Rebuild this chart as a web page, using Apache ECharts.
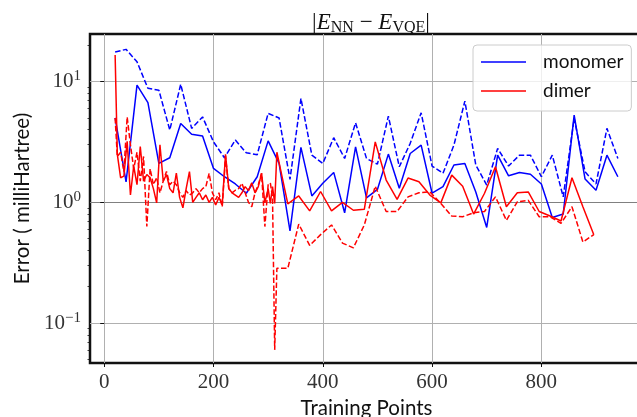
<!DOCTYPE html>
<html><head><meta charset="utf-8">
<script src="https://cdn.jsdelivr.net/npm/echarts@6/dist/echarts.min.js"></script>
<style>html,body{margin:0;padding:0;background:#fff}#c{width:637px;height:417px}</style>
</head><body><div id="c"></div>
<script>
const monomerX = [20,40,60,80,100,120,140,160,180,200,220,240,260,280,300,320,340,360,380,400,420,440,460,480,500,520,540,560,580,600,620,640,660,680,700,720,740,760,780,800,820,840,860,880,900,920,940];
const monomerSolid = [5.0,1.48,9.35,6.7,2.1,2.34,4.5,3.67,3.54,1.91,1.63,1.42,1.19,1.63,3.23,2.1,0.58,2.85,1.13,1.44,1.77,0.82,2.88,1.09,1.28,2.51,1.31,2.54,2.98,1.19,1.35,2.04,2.1,1.22,0.62,2.46,1.66,1.77,1.71,1.42,0.75,0.80,5.28,1.56,1.26,2.46,1.63];
const monomerDashed = [17.6,18.5,14.6,8.8,8.5,3.97,9.5,4.1,5.1,3.17,2.34,3.28,2.57,2.48,5.46,5.0,1.55,7.26,2.46,2.1,3.43,2.31,4.56,2.31,2.07,5.18,1.97,3.08,5.52,2.0,1.74,2.98,6.9,2.04,1.39,2.8,2.0,2.46,2.46,1.63,2.46,1.11,4.96,1.79,1.42,4.1,2.31];

const dimerX = [20,24,30,36,42,48,54,60,66,72,78,84,90,96,102,108,114,120,126,132,138,144,150,156,162,168,174,180,186,192,198,204,210,216,222,228,234,240,246,252,258,264,270,276,282,288,294,300,304,308,312,316,
  336,356,376,396,416,436,456,476,496,516,536,556,576,596,616,636,656,676,696,716,736,756,776,796,816,836,856,876,896];
const dimerSolid = [16.6,2.5,1.6,1.65,3.2,1.15,2.0,1.4,2.9,1.5,1.7,1.6,1.3,0.99,3.0,1.5,1.7,1.3,1.2,1.75,1.1,0.9,1.3,1.8,1.0,1.1,1.2,1.05,1.15,1.0,1.1,0.95,1.1,0.95,2.5,1.3,1.2,1.15,1.1,1.2,1.35,1.25,1.45,1.2,1.35,1.74,0.99,1.3,0.98,1.35,0.98,2.6,
  0.97,1.13,0.85,1.23,0.85,1.0,0.86,0.875,3.17,1.53,1.06,1.59,1.48,1.15,0.99,1.68,1.36,0.80,1.19,1.97,0.92,1.2,1.22,0.84,0.77,0.70,1.6,0.92,0.54];
const dimerDashed = [5.0,2.4,2.6,1.8,5.1,3.0,1.9,2.6,1.5,2.4,0.63,1.9,1.4,1.6,1.2,1.5,1.8,1.4,1.5,1.4,1.2,1.1,1.25,1.15,1.2,1.3,1.2,1.3,1.35,1.74,1.2,1.05,1.2,0.92,2.4,1.3,1.2,1.26,1.3,1.44,1.2,1.0,0.92,1.2,1.4,1.74,0.63,1.4,1.45,1.1,0.06,0.284,
  0.284,0.66,0.44,0.54,0.65,0.46,0.42,0.65,1.36,0.84,0.84,1.11,1.2,1.22,0.98,0.77,0.76,0.82,0.84,1.11,0.71,1.01,1.04,0.76,0.76,0.67,0.92,0.47,0.54];

const xTicks = [0,200,400,600,800];
const yTicks = [0.1,1,10];
const yMinorTicks = [0.05,0.06,0.07,0.08,0.09,0.2,0.3,0.4,0.5,0.6,0.7,0.8,0.9,2,3,4,5,6,7,8,9,20];
const seriesNames = ['monomer','dimer'];
const axisTitles = {x:'Training Points', y:'Error ( milliHartree)'};

const pairs = (xs, ys) => xs.map((x, i) => [x, ys[i]]);
const BLUE = '#0000ff', RED = '#ff0000';
const DASH = [5.5, 2.4];
const SERIF = '"Liberation Serif", "DejaVu Serif", serif';
const SANS = 'Lato, "DejaVu Sans", sans-serif';

const yMin = 0.0467, yMax = 24.8;

const chart = echarts.init(document.getElementById('c'), null, {renderer: 'canvas'});
chart.setOption({
  animation: false,
  backgroundColor: '#fff',
  title: {
    text: '{n||}{i|E}{s|NN}{n| \u2212 }{i|E}{s|VQE}{n||}',
    left: 366, top: 4, textAlign: 'center',
    textStyle: {
      fontWeight: 'normal',
      rich: {
        n: {fontFamily: SERIF, fontSize: 23, fontWeight: 'normal', color: '#111', lineHeight: 27},
        i: {fontFamily: SERIF, fontSize: 23, fontWeight: 'normal', fontStyle: 'italic', color: '#111', lineHeight: 27},
        s: {fontFamily: SERIF, fontSize: 16, fontWeight: 'normal', color: '#111', lineHeight: 16, verticalAlign: 'bottom'}
      }
    }
  },
  legend: {
    data: seriesNames,
    orient: 'vertical',
    left: 473, top: 45,
    icon: 'rect',
    itemWidth: 45, itemHeight: 1.5,
    itemGap: 9,
    padding: [7, 8, 10, 8],
    backgroundColor: 'rgba(255,255,255,0.8)',
    borderColor: '#cccccc', borderWidth: 1, borderRadius: 4,
    textStyle: {fontFamily: SANS, fontSize: 19, color: '#111', lineHeight: 20, padding: [0,0,0,12]}
  },
  grid: {left: 90, top: 34, width: 553, height: 329, show: true, borderColor: '#111', borderWidth: 2.5, backgroundColor: 'transparent', containLabel: false, outerBoundsMode: 'none'},
  xAxis: {
    type: 'value', min: -26, max: 986,
    name: axisTitles.x, nameLocation: 'middle', nameGap: 35,
    nameTextStyle: {fontFamily: SANS, fontSize: 20.5, color: '#111'},
    axisLine: {show: false},
    axisTick: {show: true, customValues: xTicks, length: 4, lineStyle: {color: '#111', width: 1}},
    axisLabel: {customValues: xTicks, fontFamily: SERIF, fontSize: 21, color: '#333', margin: 9},
    splitLine: {show: true, lineStyle: {color: '#b0b0b0', width: 1}}
  },
  yAxis: [{
    type: 'log', logBase: 10, min: yMin, max: yMax,
    name: axisTitles.y, nameLocation: 'middle', nameGap: 57,
    nameTextStyle: {fontFamily: SANS, fontSize: 20.5, color: '#111'},
    axisLine: {show: false},
    axisTick: {show: true, customValues: yTicks, length: 4, lineStyle: {color: '#111', width: 1}},
    axisLabel: {
      customValues: yTicks, margin: 9,
      formatter: v => { const e = Math.round(Math.log10(v)); return '{b|10}{s|' + (e < 0 ? '\u2212' + (-e) : e) + '}'; },
      rich: {
        b: {fontFamily: SERIF, fontSize: 21, color: '#333', lineHeight: 26},
        s: {fontFamily: SERIF, fontSize: 15, color: '#333', lineHeight: 15, verticalAlign: 'top'}
      }
    },
    splitLine: {show: true, lineStyle: {color: ['#b0b0b0', '#808080', '#b0b0b0'], width: 1}}
  }, {
    type: 'log', logBase: 10, min: yMin, max: yMax, position: 'left',
    axisLine: {show: false},
    axisTick: {show: true, customValues: yMinorTicks, length: 2.5, lineStyle: {color: '#111', width: 0.8}},
    axisLabel: {show: false},
    splitLine: {show: false}
  }],
  series: [
    {name: 'monomer', type: 'line', data: pairs(monomerX, monomerSolid), showSymbol: false, symbol: 'none', color: BLUE, lineStyle: {color: BLUE, width: 1.5}, z: 2},
    {name: 'monomer-dashed', type: 'line', data: pairs(monomerX, monomerDashed), showSymbol: false, symbol: 'none', color: BLUE, lineStyle: {color: BLUE, width: 1.5, type: DASH}, z: 2},
    {name: 'dimer', type: 'line', data: pairs(dimerX, dimerSolid), showSymbol: false, symbol: 'none', color: RED, lineStyle: {color: RED, width: 1.5}, z: 3},
    {name: 'dimer-dashed', type: 'line', data: pairs(dimerX, dimerDashed), showSymbol: false, symbol: 'none', color: RED, lineStyle: {color: RED, width: 1.5, type: DASH}, z: 3}
  ]
});
</script>
</body></html>
